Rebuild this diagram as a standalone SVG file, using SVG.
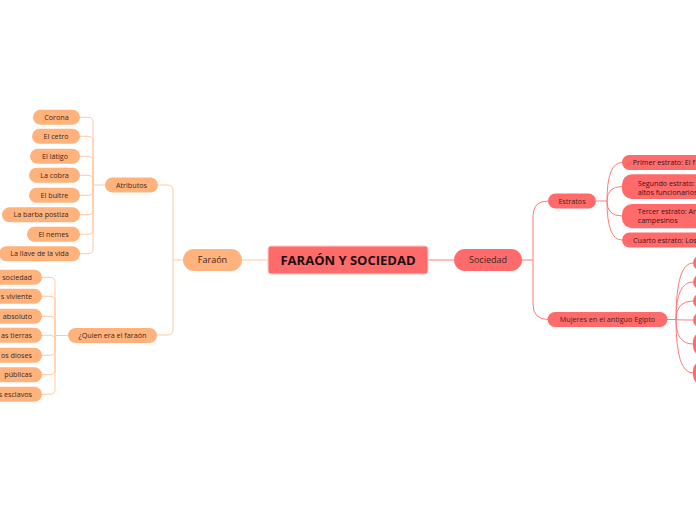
<svg xmlns="http://www.w3.org/2000/svg" width="696" height="520" viewBox="0 0 696 520">
<style>
text{font-family:"Open Sans","Noto Sans","Liberation Sans",sans-serif;}
.or{fill:#ffb27c;}
.rd{fill:#ff6b6b;}
.lo{fill:none;stroke:#ffc9a3;stroke-width:1;}
.lr{fill:none;stroke:#ff7b7b;stroke-width:1;}
.t{font-size:7.2px;fill:#3a2a20;text-anchor:middle;}
.te{font-size:7.2px;fill:#3a2a20;text-anchor:end;}
.tr{font-size:7.2px;fill:#3a1414;}
.tm{font-size:9px;fill:#3a2a20;text-anchor:middle;}
</style>
<rect width="696" height="520" fill="#ffffff"/>
<g id="connectors">
<path class="lo" d="M242,260 H268"/>
<path class="lo" d="M183,260 H173 M173,260 V191 Q173,185 167,185 H158 M173,260 V329 Q173,335 167,335 H157"/>
<path class="lo" d="M105,185 H93
M93,185 V122.3 Q93,117.3 88,117.3 H80
M93,185 V141.3 Q93,136.3 88,136.3 H80
M93,185 V161.3 Q93,156.3 88,156.3 H80
M93,185 V180.3 Q93,175.3 88,175.3 H80
M93,185 V190.3 Q93,195.3 88,195.3 H80
M93,185 V209.7 Q93,214.7 88,214.7 H80
M93,185 V229.3 Q93,234.3 88,234.3 H80
M93,185 V248.7 Q93,253.7 88,253.7 H80"/>
<path class="lo" d="M68,335.5 H55
M55,335.5 V282.3 Q55,277.3 50,277.3 H42
M55,335.5 V301.3 Q55,296.3 50,296.3 H42
M55,335.5 V321.3 Q55,316.3 50,316.3 H42
M55,335.5 V340.3 Q55,335.3 50,335.3 H42
M55,335.5 V350.3 Q55,355.3 50,355.3 H42
M55,335.5 V369.7 Q55,374.7 50,374.7 H42
M55,335.5 V389.3 Q55,394.3 50,394.3 H42"/>
<path class="lr" d="M428,260 H454"/>
<path class="lr" d="M522,260 H533 M533,260 V216 Q533,201 548,201 M533,260 V304 Q533,319.5 548,319.5"/>
<path class="lr" d="M596,201 H607
M607,201 Q607,162.5 622,162.5
M607,201 Q607,186.5 622,186.5
M607,201 Q607,216 622,216
M607,201 Q607,240 622,240"/>
<path class="lr" d="M667,319.5 H676
M676,319.5 Q676,263 693,263
M676,319.5 Q676,282 693,282
M676,319.5 Q676,301 693,301
M676,319.5 Q676,320 693,320
M676,319.5 Q676,344 693,344
M676,319.5 Q676,373 693,373"/>
</g>
<g id="central">
<rect x="268" y="246" width="160" height="28" rx="3" fill="#ff6b6b" stroke="#ffcccc" stroke-width="1"/>
<text x="348" y="264.6" font-size="13" font-weight="bold" fill="#1a1010" text-anchor="middle">FARAÓN Y SOCIEDAD</text>
</g>
<g id="faraon">
<rect class="or" x="183" y="249" width="59" height="22" rx="11"/>
<text class="tm" x="212.5" y="263.2">Faraón</text>
</g>
<g id="sociedad">
<rect class="rd" x="454" y="249" width="68" height="22" rx="11"/>
<text class="tm" x="488" y="263.2" fill="#3a1414">Sociedad</text>
</g>
<g id="atributos">
<rect class="or" x="105" y="177.5" width="53" height="15" rx="7.5"/>
<text class="t" x="131.5" y="187.6">Atributos</text>
</g>
<g id="quien">
<rect class="or" x="68" y="328" width="89" height="15" rx="7.5"/>
<text class="t" x="112.5" y="338.1">¿Quien era el faraón</text>
</g>
<g id="corona"><rect class="or" x="33" y="109.8" width="47" height="15" rx="7.5"/><text class="t" x="56.5" y="119.9">Corona</text></g>
<g id="cetro"><rect class="or" x="32" y="128.8" width="48" height="15" rx="7.5"/><text class="t" x="56" y="138.9">El cetro</text></g>
<g id="latigo"><rect class="or" x="30" y="148.8" width="50" height="15" rx="7.5"/><text class="t" x="55" y="158.9">El látigo</text></g>
<g id="cobra"><rect class="or" x="29" y="167.8" width="51" height="15" rx="7.5"/><text class="t" x="54.5" y="177.9">La cobra</text></g>
<g id="buitre"><rect class="or" x="29" y="187.8" width="51" height="15" rx="7.5"/><text class="t" x="54.5" y="197.9">El buitre</text></g>
<g id="barba"><rect class="or" x="2" y="207.2" width="78" height="15" rx="7.5"/><text class="t" x="41" y="217.3">La barba postiza</text></g>
<g id="nemes"><rect class="or" x="27" y="226.8" width="53" height="15" rx="7.5"/><text class="t" x="53.5" y="236.9">El nemes</text></g>
<g id="llave"><rect class="or" x="-1" y="246.2" width="81" height="15" rx="7.5"/><text class="t" x="39.5" y="256.3">La llave de la vida</text></g>
<g id="q1"><rect class="or" x="-60" y="269.8" width="102" height="15" rx="7.5"/><text class="te" x="32" y="279.9">sociedad</text></g>
<g id="q2"><rect class="or" x="-60" y="288.8" width="102" height="15" rx="7.5"/><text class="te" x="32" y="298.9">s viviente</text></g>
<g id="q3"><rect class="or" x="-60" y="308.8" width="102" height="15" rx="7.5"/><text class="te" x="32" y="318.9">absoluto</text></g>
<g id="q4"><rect class="or" x="-60" y="327.8" width="102" height="15" rx="7.5"/><text class="te" x="32" y="337.9">as tierras</text></g>
<g id="q5"><rect class="or" x="-60" y="347.8" width="102" height="15" rx="7.5"/><text class="te" x="32" y="357.9">os dioses</text></g>
<g id="q6"><rect class="or" x="-60" y="367.2" width="102" height="15" rx="7.5"/><text class="te" x="32" y="377.3">públicas</text></g>
<g id="q7"><rect class="or" x="-60" y="386.8" width="102" height="15" rx="7.5"/><text class="te" x="32" y="396.9">s esclavos</text></g>
<g id="estratos">
<rect class="rd" x="548" y="193.5" width="48" height="15" rx="7.5"/>
<text class="t" x="572" y="203.6" fill="#3a1414">Estratos</text>
</g>
<g id="mujeres">
<rect class="rd" x="547.5" y="312" width="120" height="15" rx="7.5"/>
<text class="t" x="607.5" y="322.1" fill="#3a1414">Mujeres en el antiguo Egipto</text>
</g>
<g id="e1"><rect class="rd" x="622" y="155" width="100" height="15" rx="7.5"/><text class="tr" x="632.7" y="165.1">Primer estrato: El f</text></g>
<g id="e2"><rect class="rd" x="622" y="174.3" width="100" height="24.7" rx="10"/><text class="tr" x="637.7" y="186">Segundo estrato:</text><text class="tr" x="637.7" y="195">altos funcionarios</text></g>
<g id="e3"><rect class="rd" x="622" y="204" width="100" height="24.3" rx="10"/><text class="tr" x="637.7" y="214.3">Tercer estrato: Ar</text><text class="tr" x="637.7" y="223.3">campesinos</text></g>
<g id="e4"><rect class="rd" x="622" y="232.5" width="100" height="15" rx="7.5"/><text class="tr" x="633" y="242.6">Cuarto estrato: Los</text></g>
<g id="m1"><rect class="rd" x="693" y="255.5" width="40" height="15" rx="7.5"/></g>
<g id="m2"><rect class="rd" x="693" y="274.5" width="40" height="15" rx="7.5"/></g>
<g id="m3"><rect class="rd" x="693" y="293.5" width="40" height="15" rx="7.5"/></g>
<g id="m4"><rect class="rd" x="693" y="312.5" width="40" height="15" rx="7.5"/></g>
<g id="m5"><rect class="rd" x="693" y="331.5" width="40" height="25" rx="10"/></g>
<g id="m6"><rect class="rd" x="693" y="360.5" width="40" height="25" rx="10"/></g>
</svg>
